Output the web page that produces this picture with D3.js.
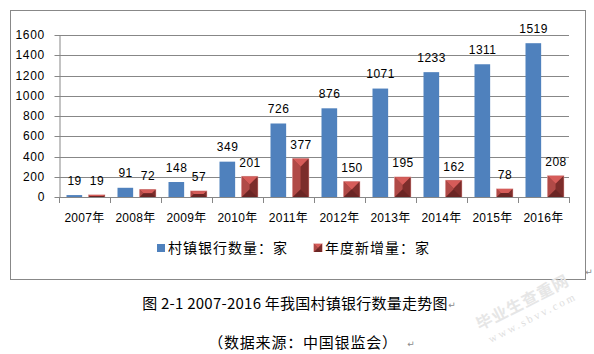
<!DOCTYPE html>
<html>
<head>
<meta charset="utf-8">
<script src="https://cdn.jsdelivr.net/npm/d3@7"></script>
<style>
  html, body { margin: 0; padding: 0; background: #fff; }
  svg { display: block; }
</style>
</head>
<body>
<svg id="chart" width="594" height="354"></svg>
<script>
// ---- data ----
const years = ["2007年","2008年","2009年","2010年","2011年","2012年","2013年","2014年","2015年","2016年"];
const totalBanks = [19, 91, 148, 349, 726, 876, 1071, 1233, 1311, 1519];
const newBanks   = [19, 72, 57, 201, 377, 150, 195, 162, 78, 208];
const yTicks = [0, 200, 400, 600, 800, 1000, 1200, 1400, 1600];
const seriesNames = ["村镇银行数量：家", "年度新增量：家"];
const captionText = "图 2-1 2007-2016 年我国村镇银行数量走势图";
const sourceText = "（数据来源：中国银监会）";

const svg = d3.select("#chart");
const NUM = "'Liberation Sans', Arial, 'Noto Sans CJK SC', sans-serif";
const CJK = "'Noto Sans CJK SC', 'Liberation Sans', sans-serif";

// frame
svg.append("rect").attr("x", 10.5).attr("y", 10.5).attr("width", 575).attr("height", 269)
  .attr("fill", "none").attr("stroke", "#888").attr("stroke-width", 1);

// scales
const x = d3.scaleBand().domain(years).range([59, 569]).padding(0);
const inner = d3.scaleBand().domain([0, 1]).range([7.5, 45.5]).paddingInner(0.3);
const y = d3.scaleLinear().domain([0, 1600]).range([197, 35]);

// gridlines
svg.append("g").selectAll("line").data(yTicks.filter(d => d > 0)).join("line")
  .attr("x1", 59).attr("x2", 569)
  .attr("y1", d => Math.round(y(d)) + 0.5).attr("y2", d => Math.round(y(d)) + 0.5)
  .attr("stroke", "#878787").attr("stroke-width", 1);

// y axis
const yAxis = svg.append("g").attr("transform", "translate(59.5,0)")
  .call(d3.axisLeft(y).tickValues(yTicks).tickFormat(d3.format("d"))
    .tickSize(5).tickSizeOuter(0).tickPadding(9.5));
yAxis.select(".domain").attr("stroke", "#878787");
yAxis.selectAll(".tick line").attr("stroke", "#878787");
yAxis.selectAll(".tick").attr("transform", d => `translate(0,${Math.round(y(d)) + 0.5})`);
yAxis.selectAll("text").attr("font-family", NUM).attr("font-size", 12)
  .attr("letter-spacing", "0.7px").attr("fill", "#000");

// x axis baseline + boundary ticks
const boundaries = years.map(d => x(d)).concat([x.range()[1]]);
svg.append("line").attr("x1", 59).attr("x2", 569).attr("y1", 197.5).attr("y2", 197.5)
  .attr("stroke", "#878787");
svg.append("g").selectAll("line").data(boundaries).join("line")
  .attr("x1", d => Math.round(d) + 0.5).attr("x2", d => Math.round(d) + 0.5)
  .attr("y1", 197).attr("y2", 203).attr("stroke", "#878787");

// x labels
svg.append("g").selectAll("text").data(years).join("text")
  .attr("x", d => x(d) + x.bandwidth() / 2).attr("y", 222)
  .attr("text-anchor", "middle").attr("font-family", NUM).attr("font-size", 12)
  .attr("letter-spacing", "0.3px").attr("fill", "#000").text(d => d);

// blue bars
const bw = inner.bandwidth();
svg.append("g").selectAll("rect").data(totalBanks).join("rect")
  .attr("x", (d, i) => x(years[i]) + inner(0))
  .attr("y", d => y(d)).attr("width", bw).attr("height", d => y(0) - y(d))
  .attr("fill", "#4f81bd");

// red beveled bars
function bevel(g, x0, y0, w, h) {
  const x1 = x0 + w, y1 = y0 + h;
  const b = Math.min(w / 2, h / 2);
  g.append("rect").attr("x", x0 - 0.7).attr("y", y0 - 0.7).attr("width", w + 1.4).attr("height", h + 0.7)
    .attr("fill", "#e3a4a3");
  g.append("rect").attr("x", x0).attr("y", y0).attr("width", w).attr("height", h).attr("fill", "#a03e3c");
  const poly = (pts, c) => g.append("polygon").attr("points", pts.map(p => p.join(",")).join(" ")).attr("fill", c);
  poly([[x0, y0], [x1, y0], [x1 - b, y0 + b], [x0 + b, y0 + b]], "#d65c59");
  poly([[x0, y0], [x0 + b, y0 + b], [x0 + b, y1 - b], [x0, y1]], "#b04a47");
  poly([[x1, y0], [x1, y1], [x1 - b, y1 - b], [x1 - b, y0 + b]], "#7c2d2b");
  poly([[x0, y1], [x1, y1], [x1 - b, y1 - b], [x0 + b, y1 - b]], "#6a2524");
}
const redG = svg.append("g");
newBanks.forEach((d, i) => {
  const g = redG.append("g");
  bevel(g, x(years[i]) + inner(1), y(d), bw, y(0) - y(d));
});

// data labels
const labels = svg.append("g").attr("font-family", NUM).attr("font-size", 12)
  .attr("letter-spacing", "0.5px").attr("fill", "#000").attr("text-anchor", "middle");
labels.selectAll("text.t").data(totalBanks).join("text").attr("class", "t")
  .attr("x", (d, i) => x(years[i]) + inner(0) + bw / 2 + 0.3)
  .attr("y", d => y(d) - 10.5).text(d => d);
labels.selectAll("text.n").data(newBanks).join("text").attr("class", "n")
  .attr("x", (d, i) => x(years[i]) + inner(1) + bw / 2 + 0.3)
  .attr("y", d => y(d) - 10).text(d => d);

// legend
const leg = svg.append("g");
leg.append("rect").attr("x", 157).attr("y", 244).attr("width", 8).attr("height", 8).attr("fill", "#4f81bd");
leg.append("text").attr("x", 168).attr("y", 252.5).attr("font-family", CJK).attr("font-size", 14)
  .attr("letter-spacing", "1px").attr("fill", "#000").text(seriesNames[0]);
const lg2 = leg.append("g");
bevel(lg2, 314, 244, 8, 8);
leg.append("text").attr("x", 325).attr("y", 252.5).attr("font-family", CJK).attr("font-size", 14)
  .attr("letter-spacing", "1px").attr("fill", "#000").text(seriesNames[1]);

// caption + source
svg.append("text").attr("x", 295).attr("y", 308.5).attr("text-anchor", "middle")
  .attr("font-family", CJK).attr("font-size", 15).attr("letter-spacing", "0.25px")
  .attr("fill", "#000").text(captionText);
svg.append("text").attr("x", 303).attr("y", 347.5).attr("text-anchor", "middle")
  .attr("font-family", CJK).attr("font-size", 15).attr("letter-spacing", "0.8px").attr("fill", "#000").text(sourceText);

// paragraph marks
const marks = [[452, 308], [411, 347], [589, 275]];
svg.append("g").selectAll("text").data(marks).join("text")
  .attr("x", d => d[0]).attr("y", d => d[1]).attr("font-family", "'DejaVu Sans', sans-serif")
  .attr("font-size", 9).attr("fill", "#8a8a8a").attr("text-anchor", "middle").text("↵");

// watermark
const wm = svg.append("g").attr("transform", "translate(523,303) rotate(-27)");
wm.append("text").attr("x", 0).attr("y", 5).attr("text-anchor", "middle")
  .attr("font-family", "'Noto Sans CJK SC', serif").attr("font-weight", "bold").attr("font-size", 16)
  .attr("fill", "#e6e6e6").attr("letter-spacing", "1px").text("毕业生查重网");
wm.append("text").attr("x", 2).attr("y", 21).attr("text-anchor", "middle")
  .attr("font-family", "'Liberation Serif', serif").attr("font-size", 11)
  .attr("fill", "#dedede").attr("letter-spacing", "2.5px").text("www.sbvv.com");
</script>
</body>
</html>
